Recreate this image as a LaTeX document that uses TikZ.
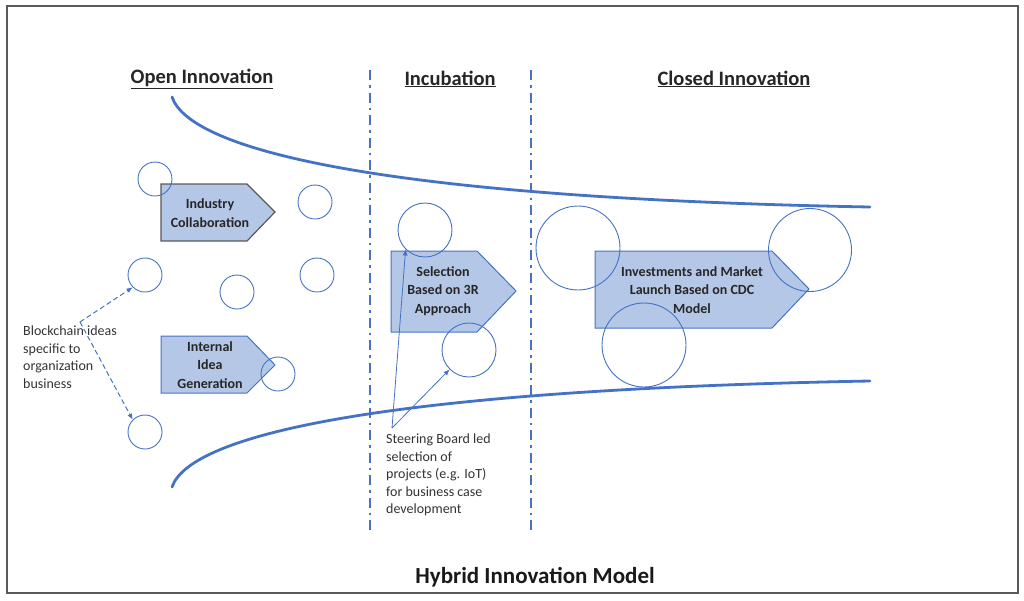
\documentclass[tikz,border=0pt]{standalone}
\usepackage{fontspec}
\setmainfont{Carlito}
\usetikzlibrary{arrows.meta}
\definecolor{blu}{HTML}{4472C4}
\definecolor{fillb}{HTML}{B4C7E7}
\definecolor{frame}{HTML}{595959}
\begin{document}
\begin{tikzpicture}[x=1pt,y=-1pt,
  bub/.style={circle,draw=blu,line width=0.9pt,inner sep=0pt,minimum size=#1},
  funnel/.style={draw=blu,line width=2.8pt},
  divider/.style={draw=blu,line width=2.6pt,dash pattern=on 10pt off 5pt on 2.5pt off 5pt},
  chev/.style={fill=fillb,draw=blu,line width=1pt},
  chevdark/.style={fill=fillb,draw=frame,line width=1.2pt},
  boxtxt/.style={font=\fontsize{14}{18.5}\selectfont\bfseries,align=center,inner sep=0pt,text=black!85},
  note/.style={font=\fontsize{14}{17.5}\selectfont,align=left,inner sep=0pt,text=black!80,anchor=north west},
  head/.style={font=\fontsize{20.5}{24}\selectfont\bfseries,inner sep=0pt,text=black!85},
  ptr/.style={draw=blu,line width=0.8pt,-{Latex[length=6pt,width=5pt]}},
  dptr/.style={draw=blu,line width=1pt,dash pattern=on 5pt off 3pt,-{Latex[length=6pt,width=5pt]}}
]
\useasboundingbox (0,0) rectangle (1024,600);
\draw[frame,line width=2pt] (7,6) rectangle (1018,593);

% headings
\node[head] (hopen) at (202,79) {\underline{Open Innovation}};
\node[head] (hinc) at (450,79) {\underline{Incubation}};
\node[head] (hclosed) at (734,79) {\underline{Closed Innovation}};
\node[font=\fontsize{23}{26}\selectfont\bfseries,inner sep=0pt,text=black!90] (title) at (535,577) {Hybrid Innovation Model};

% dividers
\coordinate (d1t) at (370,70); \coordinate (d1b) at (370,530);
\coordinate (d2t) at (531,70); \coordinate (d2b) at (531,530);
\draw[divider] (d1t) -- (d1b);
\draw[divider] (d2t) -- (d2b);

% funnel curves
\coordinate (ts) at (172,97); \coordinate (te) at (870,207);
\coordinate (bs) at (172,487); \coordinate (be) at (870,381);
\draw[funnel,line cap=round] (ts) .. controls (190,150) and (380,198) .. (te);
\draw[funnel,line cap=round] (bs) .. controls (190,435) and (380,390) .. (be);

% chevrons
\draw[chevdark] (161,184) -- (247,184) -- (275,212) -- (247,241) -- (161,241) -- cycle;
\draw[chev] (161,336) -- (247,336) -- (275,365) -- (247,393) -- (161,393) -- cycle;
\draw[chev] (391,251) -- (477,251) -- (516,291) -- (477,332) -- (391,332) -- cycle;
\draw[chev] (595,251) -- (772,251) -- (809,289) -- (772,328) -- (595,328) -- cycle;

\node[boxtxt] (ic) at (210,213) {Industry\\Collaboration};
\node[boxtxt] (iig) at (210,365) {Internal\\Idea\\Generation};
\node[boxtxt] (sel) at (443,291) {Selection\\Based on 3R\\Approach};
\node[boxtxt] (inv) at (692,290) {Investments and Market\\Launch Based on CDC\\Model};

% bubbles
\node[bub=34pt] (c1) at (155,179) {};
\node[bub=34pt] (c2) at (315,202) {};
\node[bub=34pt] (c3) at (145,275) {};
\node[bub=34pt] (c4) at (237,292) {};
\node[bub=34pt] (c5) at (317,275) {};
\node[bub=34pt] (c6) at (278,374) {};
\node[bub=34pt] (c7) at (145,432) {};
\node[bub=54pt] (c8) at (425,230) {};
\node[bub=54pt] (c9) at (469,350) {};
\node[bub=84pt] (c10) at (578,248) {};
\node[bub=83pt] (c11) at (810,250) {};
\node[bub=84pt] (c12) at (644,345) {};

% notes
\node[note] (n1) at (23,326) {Blockchain ideas\\specific to\\organization\\business};
\node[note] (n2) at (386,434) {Steering Board led\\selection of\\projects (e.g. IoT)\\for business case\\development};

\coordinate (bfork) at (80,322);
\draw[dptr] (bfork) -- (c3.south west);
\draw[dptr] (bfork) -- (c7.north west);

\coordinate (sfork) at (392,428);
\draw[ptr] (sfork) -- (c8.south west);
\draw[ptr] (sfork) -- (c9.south west);
\end{tikzpicture}
\end{document}
